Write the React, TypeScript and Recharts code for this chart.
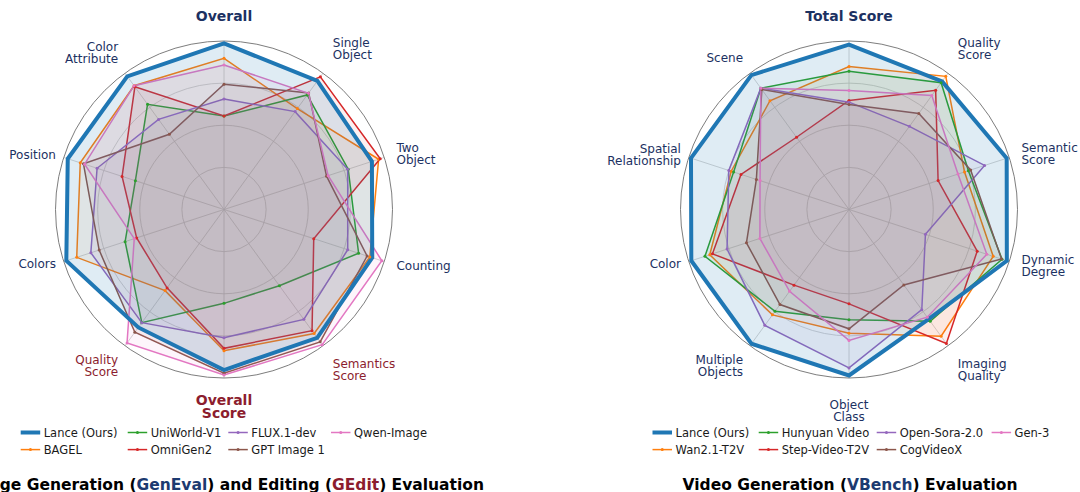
import React from 'react';
import { RadarChart, Radar, PolarGrid, PolarAngleAxis, PolarRadiusAxis } from 'recharts';

const FONT = '"DejaVu Sans", Verdana, sans-serif';
const NAVY = '#1c3162';
const WINE = '#8c1d2e';

const BLUE = '#1f77b4';
const ORANGE = '#ff7f0e';
const GREEN = '#2ca02c';
const RED = '#d62728';
const PURPLE = '#9467bd';
const BROWN = '#8c564b';
const PINK = '#e377c2';

// ---------- Left panel: GenEval + GEdit (radial fraction of each axis) ----------
const imgAxes = ['Overall', 'Single\nObject', 'Two\nObject', 'Counting', 'Semantics\nScore', 'Overall\nScore', 'Quality\nScore', 'Colors', 'Position', 'Color\nAttribute'];
const imgLance = [0.986, 0.943, 0.923, 0.925, 0.941, 0.953, 0.865, 0.984, 0.975, 0.977];
const imgBagel = [0.897, 0.74, 0.965, 0.91, 0.91, 0.838, 0.595, 0.919, 0.897, 0.908];
const imgUniWorld = [0.555, 0.84, 0.775, 0.84, 0.559, 0.557, 0.83, 0.617, 0.553, 0.772];
const imgOmniGen2 = [0.555, 0.973, 0.975, 0.56, 0.889, 0.824, 0.575, 0.545, 0.636, 0.9];
const imgFlux = [0.656, 0.718, 0.772, 0.772, 0.806, 0.761, 0.83, 0.831, 0.792, 0.661];
const imgGpt = [0.743, 0.855, 0.64, 0.893, 0.971, 0.972, 0.9, 0.779, 0.877, 0.552];
const imgQwen = [0.858, 0.853, 0.65, 0.985, 0.992, 0.982, 0.979, 0.56, 0.87, 0.908];

// ---------- Right panel: VBench ----------
const vidAxes = ['Total Score', 'Quality\nScore', 'Semantic\nScore', 'Dynamic\nDegree', 'Imaging\nQuality', 'Object\nClass', 'Multiple\nObjects', 'Color', 'Spatial\nRelationship', 'Scene'];
const vidLance = [0.979, 0.94, 0.984, 0.985, 0.804, 0.985, 0.985, 0.984, 0.986, 0.986];
const vidWan = [0.849, 0.977, 0.721, 0.9, 0.93, 0.734, 0.773, 0.869, 0.735, 0.798];
const vidHunyuan = [0.821, 0.93, 0.745, 0.955, 0.82, 0.655, 0.747, 0.899, 0.72, 0.89];
const vidStep = [0.647, 0.875, 0.556, 0.8, 0.983, 0.56, 0.555, 0.852, 0.674, 0.53];
const vidOpenSora = [0.637, 0.61, 0.846, 0.477, 0.735, 0.94, 0.85, 0.761, 0.75, 0.89];
const vidCog = [0.623, 0.705, 0.759, 0.952, 0.554, 0.708, 0.697, 0.64, 0.578, 0.88];
const vidGen3 = [0.706, 0.836, 0.68, 0.86, 0.79, 0.777, 0.6, 0.556, 0.555, 0.89];

type Series = { key: string; name: string; color: string; values: number[]; lance?: boolean };

const imgSeries: Series[] = [
  { key: 'lance', name: 'Lance (Ours)', color: BLUE, values: imgLance, lance: true },
  { key: 'bagel', name: 'BAGEL', color: ORANGE, values: imgBagel },
  { key: 'uni', name: 'UniWorld-V1', color: GREEN, values: imgUniWorld },
  { key: 'omni', name: 'OmniGen2', color: RED, values: imgOmniGen2 },
  { key: 'flux', name: 'FLUX.1-dev', color: PURPLE, values: imgFlux },
  { key: 'gpt', name: 'GPT Image 1', color: BROWN, values: imgGpt },
  { key: 'qwen', name: 'Qwen-Image', color: PINK, values: imgQwen },
];

const vidSeries: Series[] = [
  { key: 'lance', name: 'Lance (Ours)', color: BLUE, values: vidLance, lance: true },
  { key: 'wan', name: 'Wan2.1-T2V', color: ORANGE, values: vidWan },
  { key: 'hun', name: 'Hunyuan Video', color: GREEN, values: vidHunyuan },
  { key: 'step', name: 'Step-Video-T2V', color: RED, values: vidStep },
  { key: 'osora', name: 'Open-Sora-2.0', color: PURPLE, values: vidOpenSora },
  { key: 'cog', name: 'CogVideoX', color: BROWN, values: vidCog },
  { key: 'gen3', name: 'Gen-3', color: PINK, values: vidGen3 },
];

type LabelStyle = { color: string; bold: boolean; size: number };
const imgLabelStyle: Record<string, LabelStyle> = {
  'Overall': { color: NAVY, bold: true, size: 14 },
  'Overall\nScore': { color: WINE, bold: true, size: 14 },
  'Semantics\nScore': { color: WINE, bold: false, size: 12 },
  'Quality\nScore': { color: WINE, bold: false, size: 12 },
};
const vidLabelStyle: Record<string, LabelStyle> = {
  'Total Score': { color: NAVY, bold: true, size: 14 },
};
const defaultStyle: LabelStyle = { color: NAVY, bold: false, size: 12 };

const R = 168.5;
const CY = 209.5;

function buildRows(axes: string[], series: Series[]) {
  return axes.map((a, i) => {
    const row: Record<string, any> = { axis: a };
    series.forEach((s) => { row[s.key] = s.values[i]; });
    return row;
  });
}

function makeTick(cx: number, cy: number, styles: Record<string, LabelStyle>) {
  return (props: any) => {
    const { payload } = props;
    const value = String(payload.value);
    const st = styles[value] || defaultStyle;
    const ang = (payload.coordinate * Math.PI) / 180;
    const hx = Math.cos(ang);
    const vy = Math.sin(ang);
    const lines = value.split('\n');
    const F = st.size;
    const L = st.bold ? 13.3 : 12;
    let pad: number;
    let anchor: 'start' | 'middle' | 'end';
    let f: number;
    if (Math.abs(hx) < 0.1) {
      anchor = 'middle';
      f = vy > 0 ? 1 : 0;
      pad = vy > 0 ? 16.5 : st.bold ? 14 : 19.5;
    } else {
      anchor = hx > 0 ? 'start' : 'end';
      pad = hx > 0 ? 10.5 + 7.5 * Math.abs(vy) : 6 + 7 * Math.abs(vy);
      const av = Math.abs(vy);
      const t = Math.min(1, Math.max(0, (av - 0.309) / 0.5));
      f = 0.5 + Math.sign(vy) * 0.42 * t;
    }
    const ax = cx + (R + pad) * hx;
    const ay = cy - (R + pad) * vy;
    const H = (lines.length - 1) * L + 1.15 * F;
    const yTop = ay - f * H;
    const base = yTop + 0.93 * F;
    return (
      <text
        x={ax}
        y={base}
        textAnchor={anchor}
        fontSize={F}
        fontWeight={st.bold ? 'bold' : 'normal'}
        fill={st.color}
        fontFamily={FONT}
      >
        {lines.map((ln, i) => (
          <tspan key={i} x={ax} y={base + i * L}>
            {ln}
          </tspan>
        ))}
      </text>
    );
  };
}

function Panel({ axes, series, cx, styles }: { axes: string[]; series: Series[]; cx: number; styles: Record<string, LabelStyle> }) {
  const data = buildRows(axes, series);
  const ordered = [...series.filter((s) => !s.lance), ...series.filter((s) => s.lance)];
  return (
    <RadarChart
      width={540}
      height={492}
      data={data}
      cx={cx}
      cy={CY}
      outerRadius={R}
      startAngle={90}
      endAngle={-270}
      margin={{ top: 0, right: 0, bottom: 0, left: 0 }}
    >
      <PolarGrid gridType="circle" polarRadius={[R * 0.25, R * 0.5, R * 0.75]} stroke="#c9c9c9" strokeWidth={0.8} />
      <PolarGrid gridType="circle" polarRadius={[R]} radialLines={false} stroke="#6e6e6e" strokeWidth={0.9} />
      <PolarAngleAxis dataKey="axis" tick={makeTick(cx, CY, styles)} tickLine={false} axisLine={false} />
      <PolarRadiusAxis domain={[0, 1]} tick={false} axisLine={false} angle={90} />
      {ordered.map((s) => (
        <Radar
          key={s.key}
          name={s.name}
          dataKey={s.key}
          stroke={s.color}
          strokeWidth={s.lance ? 4 : 1.5}
          fill={s.color}
          fillOpacity={s.lance ? 0.14 : 0.07}
          dot={s.lance ? false : { r: 1.5, fill: s.color, fillOpacity: 1, stroke: 'none' }}
          isAnimationActive={false}
        />
      ))}
    </RadarChart>
  );
}

const imgLegendCols = [20.7, 127.7, 228.3, 331];
const vidLegendCols = [652.5, 758.7, 876.7, 991.6];
const legendRows = [436.7, 453.8];

function Legend({ series, cols }: { series: Series[]; cols: number[] }) {
  return (
    <g>
      {series.map((s, i) => {
        const col = Math.floor(i / 2);
        const row = i % 2;
        const x = cols[col];
        const y = legendRows[row];
        const my = y - 4.2;
        return (
          <g key={s.key}>
            <line x1={x} x2={x + 19.5} y1={my} y2={my} stroke={s.color} strokeWidth={s.lance ? 4 : 1.5} />
            {!s.lance && <circle cx={x + 9.75} cy={my} r={1.5} fill={s.color} />}
            <text x={x + 23} y={y} fontSize={11.5} fill="#1a1a1a" fontFamily={FONT}>
              {s.name}
            </text>
          </g>
        );
      })}
    </g>
  );
}

export default function App() {
  return (
    <div style={{ position: 'absolute', left: 0, top: 0, width: 1080, height: 492, overflow: 'hidden', background: '#fff' }}>
      <div style={{ position: 'absolute', left: 0, top: 0 }}>
        <Panel axes={imgAxes} series={imgSeries} cx={224} styles={imgLabelStyle} />
      </div>
      <div style={{ position: 'absolute', left: 540, top: 0 }}>
        <Panel axes={vidAxes} series={vidSeries} cx={309} styles={vidLabelStyle} />
      </div>
      <svg width={1080} height={492} style={{ position: 'absolute', left: 0, top: 0, pointerEvents: 'none' }}>
        <Legend series={imgSeries} cols={imgLegendCols} />
        <Legend series={vidSeries} cols={vidLegendCols} />
        <text x={484} y={490} textAnchor="end" fontSize={15.5} fontWeight="bold" fontFamily={FONT} fill="#000">
          Image Generation (<tspan fill="#1c3a70">GenEval</tspan>) and Editing (<tspan fill={WINE}>GEdit</tspan>) Evaluation
        </text>
        <text x={850} y={490} textAnchor="middle" fontSize={15.5} fontWeight="bold" fontFamily={FONT} fill="#000">
          Video Generation (<tspan fill="#1c3a70">VBench</tspan>) Evaluation
        </text>
      </svg>
    </div>
  );
}
